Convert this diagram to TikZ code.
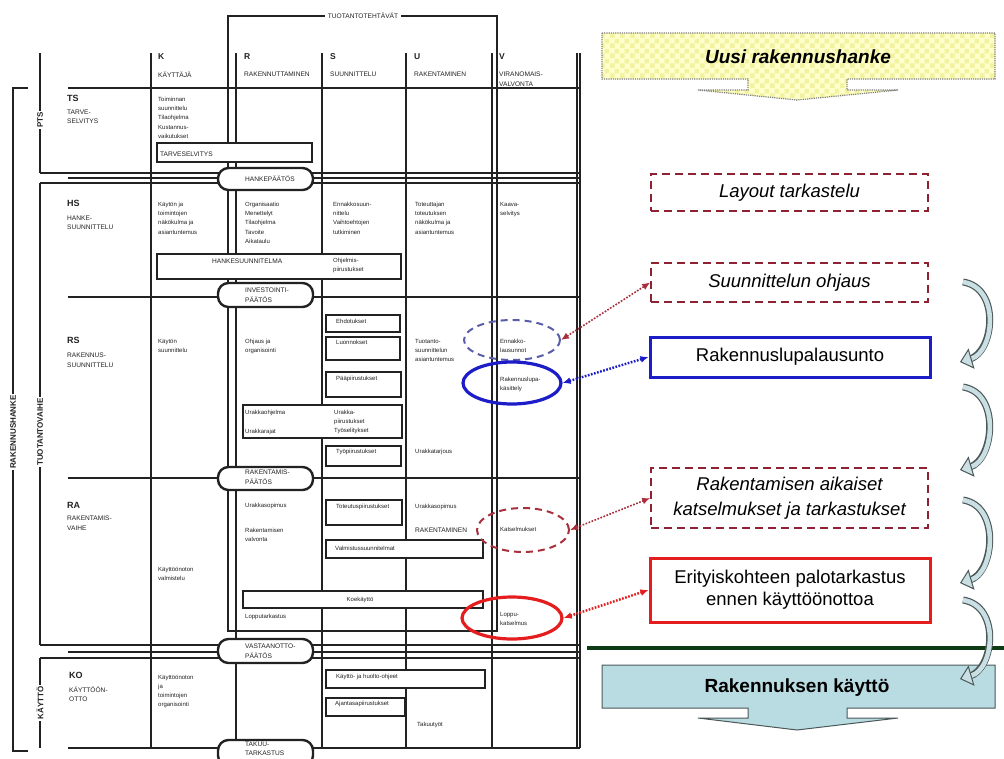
\documentclass[tikz,border=0pt]{standalone}
\usepackage{fontspec}
\setmainfont{Liberation Sans}
\usetikzlibrary{arrows.meta,shapes.geometric,patterns.meta}

\definecolor{ink}{HTML}{222222}
\definecolor{boxred}{HTML}{8E2232}
\definecolor{lblue}{HTML}{1C1CC8}
\definecolor{lred}{HTML}{E41E1E}
\definecolor{elblue}{HTML}{5A5EA8}
\definecolor{elred}{HTML}{A8303C}
\definecolor{banyellow}{HTML}{FFFFCC}
\definecolor{banyellowdark}{HTML}{F2F2A0}
\definecolor{bancyan}{HTML}{B9DCE2}
\definecolor{bandgreen}{HTML}{0E3A14}
\definecolor{swirlfill}{HTML}{C9DFE3}
\definecolor{swirlline}{HTML}{4C5858}

% coarse checkerboard for the top banner
\tikzdeclarepattern{
  name=bigcheck,
  type=uncolored,
  bottom left={(0pt,0pt)},
  top right={(10pt,10pt)},
  tile size={(10pt,10pt)},
  code={
    \fill (0pt,0pt) rectangle (5pt,5pt);
    \fill (5pt,5pt) rectangle (10pt,10pt);
  }
}

\begin{document}
\begin{tikzpicture}[x=1pt,y=-1pt,
  tline/.style={draw=ink, line width=1.1pt},
  pframe/.style={draw=ink, line width=1.9pt},
  cellbox/.style={draw=ink, line width=1.3pt, fill=white},
  pill/.style={draw=ink, line width=2.4pt, fill=white, rounded corners=10.5pt},
  small/.style={anchor=north west, align=left, inner sep=0pt, text=ink, font=\fontsize{6}{9.2}\selectfont},
  capstxt/.style={small, font=\fontsize{6.6}{9.2}\selectfont},
  rowcode/.style={anchor=north west, inner sep=0pt, text=ink, font=\bfseries\fontsize{9}{10}\selectfont},
  colcode/.style={anchor=north west, inner sep=0pt, text=ink, font=\bfseries\fontsize{8.5}{10}\selectfont},
  brlabel/.style={rotate=90, fill=white, inner sep=1.5pt, text=ink, font=\bfseries\fontsize{8}{9}\selectfont},
  dbox/.style={draw=boxred, line width=1.6pt, dash pattern=on 8pt off 5pt, align=center, font=\itshape\fontsize{18.5}{25}\selectfont},
  sbox/.style={line width=3pt, fill=white, align=center, font=\fontsize{18.5}{22}\selectfont},
  duallink/.style={dash pattern=on 1.7pt off 1.5pt, {Latex[length=8pt,width=7pt]}-{Latex[length=8pt,width=7pt]}},
  swirlout/.style={draw=swirlline, line width=7pt, shorten >=10pt},
  swirlin/.style={draw=swirlfill, line width=4.6pt, -{Triangle[length=12pt,width=21pt,line width=1pt,color=swirlline,fill=swirlfill]}}
]
\useasboundingbox (0,0) rectangle (1004,758);
\fill[white] (0,0) rectangle (1004,758);

% ---------------- process table: rules ----------------
\draw[tline] (68,88) -- (580,88);
\foreach \cx in {151,236,322,406,492} \draw[tline] (\cx,53) -- (\cx,748);
\draw[tline] (577,53) -- (577,748) (580,53) -- (580,748);
% phase separators
\draw[tline] (40,173) -- (580,173) (68,178) -- (580,178) (40,183) -- (580,183);
\draw[tline] (40,645) -- (580,645) (68,652) -- (580,652) (40,658) -- (580,658);
% stage separators
\draw[tline] (68,297) -- (580,297) (68,478) -- (580,478) (68,748) -- (580,748);

% brackets on the left
\draw[tline] (28,88) -- (13,88) -- (13,751) -- (28,751);
\draw[tline] (40,53) -- (40,173);
\draw[tline] (40,183) -- (40,645);
\draw[tline] (40,658) -- (40,748);
\node[brlabel] (lRH) at (13,432) {RAKENNUSHANKE};
\node[brlabel] (lPTS) at (40,120) {PTS};
\node[brlabel] (lTV) at (40,432) {TUOTANTOVAIHE};
\node[brlabel] (lKAY) at (40,703) {KÄYTTÖ};

% production tasks frame
\draw[pframe] (228,16) rectangle (497,631);
\node[capstxt, anchor=center, fill=white, inner xsep=3pt, inner ysep=1pt] (hTT) at (363,16) {TUOTANTOTEHTÄVÄT};

% ---------------- boxes inside the table ----------------
\draw[cellbox] (157,143) rectangle (312,162);
\draw[cellbox] (157,254) rectangle (401,279);
\draw[cellbox] (326,315) rectangle (400,332);
\draw[cellbox] (326,337) rectangle (400,360);
\draw[cellbox] (326,372) rectangle (401,397);
\draw[cellbox] (243,405) rectangle (402,438);
\draw[cellbox] (326,446) rectangle (401,466);
\draw[cellbox] (326,500) rectangle (402,525);
\draw[cellbox] (326,540) rectangle (483,558);
\draw[cellbox] (243,591) rectangle (483,608);
\draw[cellbox] (326,670) rectangle (485,688);
\draw[cellbox] (326,698) rectangle (405,716);

% decision milestones
\draw[pill] (218,168) rectangle (313,190);
\draw[pill] (218,283) rectangle (313,307);
\draw[pill] (218,467) rectangle (313,490);
\draw[pill] (218,639) rectangle (313,663);
\draw[pill] (218,740) rectangle (313,766);

% ---------------- column heads ----------------
\node[colcode] (hK) at (158,53) {K};
\node[capstxt] (hKt) at (158,72) {KÄYTTÄJÄ};
\node[colcode] (hR) at (244,53) {R};
\node[capstxt] (hRt) at (244,72) {RAKENNUTTAMINEN};
\node[colcode] (hS) at (330,53) {S};
\node[capstxt] (hSt) at (330,72) {SUUNNITTELU};
\node[colcode] (hU) at (414,53) {U};
\node[capstxt] (hUt) at (414,72) {RAKENTAMINEN};
\node[colcode] (hV) at (499,53) {V};
\node[capstxt] (hVt) at (499,72) {VIRANOMAIS-\\VALVONTA};

% ---------------- stage heads ----------------
\node[rowcode] (rTS) at (67,95) {TS};
\node[capstxt] (rTSt) at (67,110) {TARVE-\\SELVITYS};
\node[rowcode] (rHS) at (67,200) {HS};
\node[capstxt] (rHSt) at (67,216) {HANKE-\\SUUNNITTELU};
\node[rowcode] (rRS) at (67,337) {RS};
\node[capstxt] (rRSt) at (67,353) {RAKENNUS-\\SUUNNITTELU};
\node[rowcode] (rRA) at (67,502) {RA};
\node[capstxt] (rRAt) at (67,516) {RAKENTAMIS-\\VAIHE};
\node[rowcode] (rKO) at (69,672) {KO};
\node[capstxt] (rKOt) at (69,687) {KÄYTTÖÖN-\\OTTO};

% ---------------- TS ----------------
\node[small] (tsK) at (158,97) {Toiminnan\\suunnittelu\\Tilaohjelma\\Kustannus-\\vaikutukset};
\node[capstxt] (tsBox) at (160,152) {TARVESELVITYS};
\node[capstxt] (pHP) at (245,176) {HANKEPÄÄTÖS};

% ---------------- HS ----------------
\node[small] (hsK) at (158,202) {Käytön ja\\toimintojen\\näkökulma ja\\asiantuntemus};
\node[small] (hsR) at (245,202) {Organisaatio\\Menettelyt\\Tilaohjelma\\Tavoite\\Aikataulu};
\node[small] (hsS) at (333,202) {Ennakkosuun-\\nittelu\\Vaihtoehtojen\\tutkiminen};
\node[small] (hsU) at (415,202) {Toteuttajan\\toteutuksen\\näkökulma ja\\asiantuntemus};
\node[small] (hsV) at (500,202) {Kaava-\\selvitys};
\node[capstxt] (hsBox) at (212,259) {HANKESUUNNITELMA};
\node[small] (hsOhj) at (333,258) {Ohjelmis-\\piirustukset};
\node[capstxt] (pIP) at (245,288) {INVESTOINTI-\\PÄÄTÖS};

% ---------------- RS ----------------
\node[small] (rsK) at (158,339) {Käytön\\suunnittelu};
\node[small] (rsR) at (245,339) {Ohjaus ja\\organisointi};
\node[small] (rsS1) at (336,319) {Ehdotukset};
\node[small] (rsS2) at (336,340) {Luonnokset};
\node[small] (rsS3) at (336,376) {Pääpiirustukset};
\node[small] (rsU) at (415,339) {Tuotanto-\\suunnittelun\\asiantuntemus};
\node[small] (rsV1) at (500,339) {Ennakko-\\lausunnot};
\node[small] (rsV2) at (500,377) {Rakennuslupa-\\käsittely};
\node[small] (rsR2) at (245,410) {Urakkaohjelma};
\node[small] (rsR3) at (245,429) {Urakkarajat};
\node[small] (rsS4) at (334,410) {Urakka-\\piirustukset\\Työselitykset};
\node[small] (rsS5) at (336,449) {Työpiirustukset};
\node[small] (rsU2) at (415,449) {Urakkatarjous};
\node[capstxt] (pRP) at (245,470) {RAKENTAMIS-\\PÄÄTÖS};

% ---------------- RA ----------------
\node[small] (raK) at (158,567) {Käyttöönoton\\valmistelu};
\node[small] (raR1) at (245,503) {Urakkasopimus};
\node[small] (raR2) at (245,528) {Rakentamisen\\valvonta};
\node[small] (raS1) at (336,504) {Toteutuspiirustukset};
\node[small] (raU1) at (415,504) {Urakkasopimus};
\node[capstxt] (raU2) at (415,528) {RAKENTAMINEN};
\node[small] (raS2) at (335,546) {Valmistussuunnitelmat};
\node[small] (raV1) at (500,527) {Katselmukset};
\node[small, anchor=center] (raKoe) at (360,599.5) {Koekäyttö};
\node[small] (raR3) at (245,614) {Lopputarkastus};
\node[small] (raV2) at (500,612) {Loppu-\\katselmus};
\node[capstxt] (pVP) at (245,644) {VASTAANOTTO-\\PÄÄTÖS};

% ---------------- KO ----------------
\node[small] (koK) at (158,675) {Käyttöönoton\\ja\\toimintojen\\organisointi};
\node[small] (koS1) at (336,674) {Käyttö- ja huolto-ohjeet};
\node[small] (koS2) at (335,701) {Ajantasapiirustukset};
\node[small] (koU) at (417,722) {Takuutyöt};
\node[capstxt, font=\fontsize{6.6}{8.4}\selectfont] (pTT) at (245,742) {TAKUU-\\TARKASTUS};

% ---------------- authority highlights ----------------
\node[ellipse, draw=elblue, line width=2pt, dash pattern=on 7pt off 5pt, minimum width=96pt, minimum height=40pt] (eEnn) at (512,340) {};
\node[ellipse, draw=lblue, line width=3.2pt, minimum width=98pt, minimum height=42pt] (eLupa) at (512,383) {};
\node[ellipse, draw=elred, line width=2pt, dash pattern=on 7pt off 5pt, minimum width=92pt, minimum height=44pt] (eKats) at (523,530) {};
\node[ellipse, draw=lred, line width=3.2pt, minimum width=100pt, minimum height=42pt] (eLoppu) at (512,618) {};

% ---------------- right-hand process column ----------------
\path[fill=banyellow] (602,33) -- (995,33) -- (995,79) -- (847,79) -- (847,90) -- (898,90) -- (797,100) -- (698,90) -- (748,90) -- (748,79) -- (602,79) -- cycle;
\path[pattern=bigcheck, pattern color=banyellowdark] (602,33) -- (995,33) -- (995,79) -- (847,79) -- (847,90) -- (898,90) -- (797,100) -- (698,90) -- (748,90) -- (748,79) -- (602,79) -- cycle;
\draw[gray, line width=1.2pt, densely dotted] (602,33) -- (995,33) -- (995,79) -- (847,79) -- (847,90) -- (898,90) -- (797,100) -- (698,90) -- (748,90) -- (748,79) -- (602,79) -- cycle;
\node[font=\bfseries\itshape\fontsize{19}{22}\selectfont] (nUusi) at (798,57) {Uusi rakennushanke};

\node[dbox, minimum width=277pt, minimum height=37pt] (nLay) at (789.5,192.5) {Layout tarkastelu};
\node[dbox, minimum width=277pt, minimum height=39pt] (nOhj) at (789.5,282.5) {Suunnittelun ohjaus};
\node[sbox, draw=lblue, minimum width=280pt, minimum height=40pt] (nLupa) at (790,357) {Rakennuslupalausunto};
\node[dbox, minimum width=277pt, minimum height=60pt] (nKats) at (789.5,498) {Rakentamisen aikaiset\\katselmukset ja tarkastukset};
\node[sbox, draw=lred, minimum width=280pt, minimum height=64pt] (nPalo) at (790,590) {Erityiskohteen palotarkastus\\ennen käyttöönottoa};

% links between the table and the process column
\draw[duallink, draw=elred, line width=1.6pt] (eEnn.east) -- (nOhj.west);
\draw[duallink, draw=lblue, line width=2.4pt] (eLupa.east) -- (nLupa.west);
\draw[duallink, draw=elred, line width=1.6pt] (eKats.east) -- (nKats.west);
\draw[duallink, draw=lred, line width=2.4pt] (eLoppu.east) -- (nPalo.west);

% boundary between construction and use
\draw[bandgreen, line width=4pt] (587,648) -- (1004,648);

\path[fill=bancyan, draw=swirlline, line width=1pt] (602,665) -- (995,665) -- (995,708) -- (847,708) -- (847,718) -- (898,718) -- (797,730) -- (698,718) -- (748,718) -- (748,708) -- (602,708) -- cycle;
\node[font=\bfseries\fontsize{19}{22}\selectfont] (nKaytto) at (797,688) {Rakennuksen käyttö};

% curved step arrows
\coordinate (s1a) at (963,282); \coordinate (s1b) at (960,362);
\coordinate (s2a) at (963,387); \coordinate (s2b) at (960,470);
\coordinate (s3a) at (963,500); \coordinate (s3b) at (960,583);
\coordinate (s4a) at (963,600); \coordinate (s4b) at (960,679);
\foreach \a/\b in {s1a/s1b,s2a/s2b,s3a/s3b,s4a/s4b}{
  \draw[swirlout] (\a) .. controls +(38,6) and +(34,-10) .. (\b);
  \draw[swirlin] (\a) .. controls +(38,6) and +(34,-10) .. (\b);
}
\end{tikzpicture}
\end{document}
